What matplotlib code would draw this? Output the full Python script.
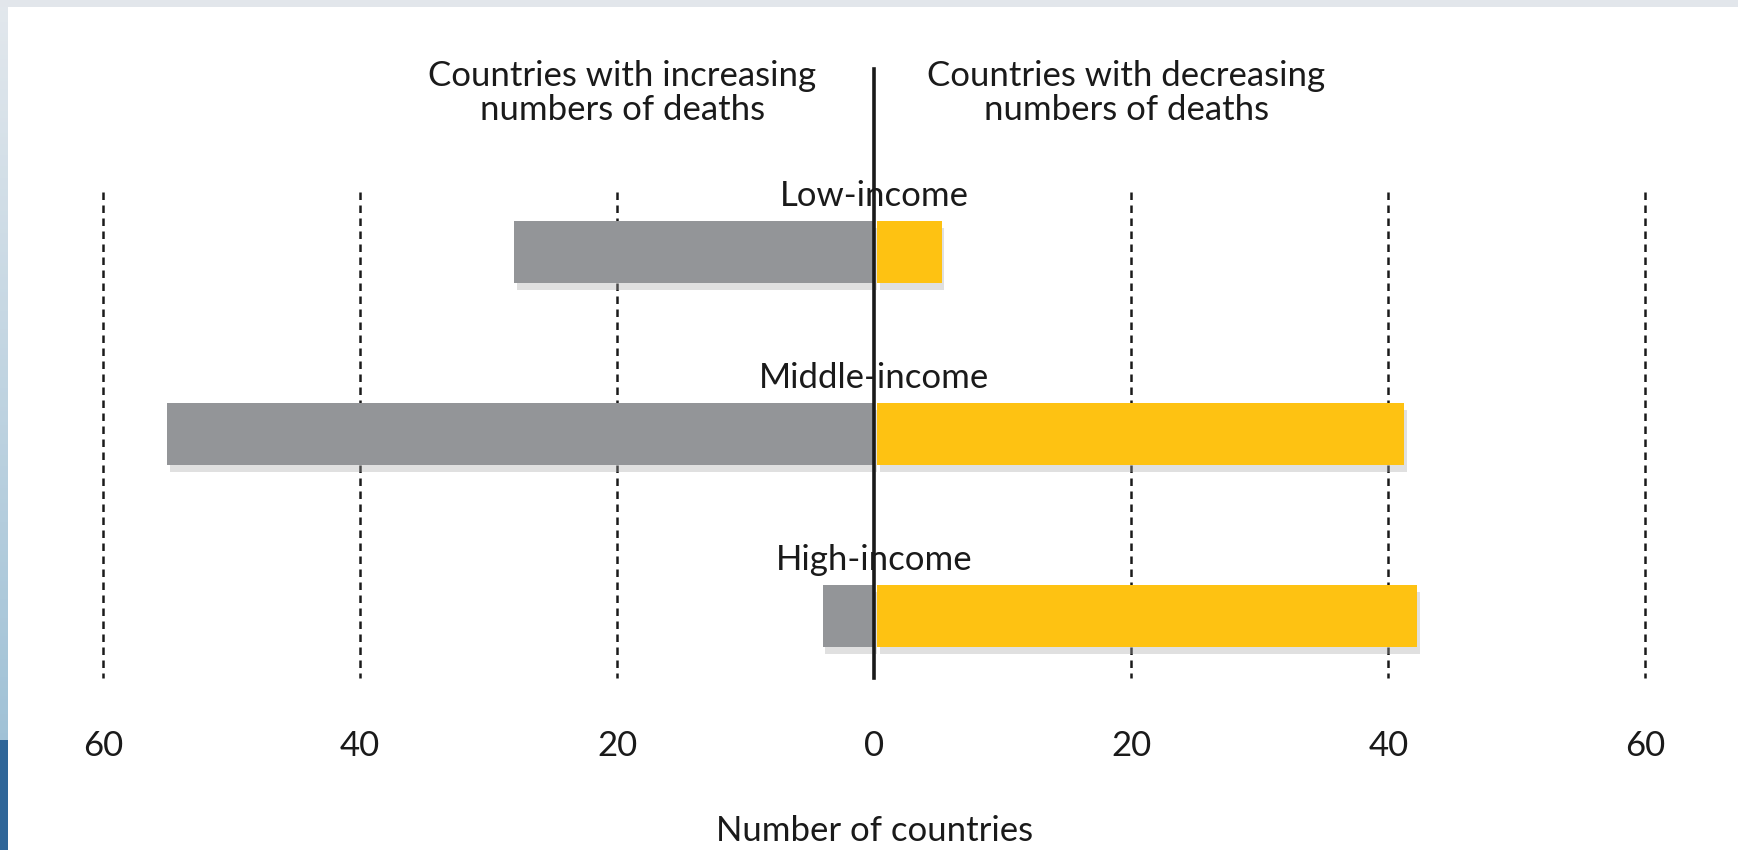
import matplotlib
matplotlib.use("Agg")
import matplotlib.pyplot as plt
import matplotlib.patheffects as pe
import numpy as np
from matplotlib import font_manager

categories = ["Low-income", "Middle-income", "High-income"]
increasing = [28, 55, 4]
decreasing = [5, 41, 42]
ticks = [-60, -40, -20, 0, 20, 40, 60]
tick_labels = ["60", "40", "20", "0", "20", "40", "60"]
title_left = "Countries with increasing\nnumbers of deaths"
title_right = "Countries with decreasing\nnumbers of deaths"
xlabel = "Number of countries"

names = {f.name for f in font_manager.fontManager.ttflist}
fam = next((n for n in ["Lato", "Roboto", "Liberation Sans"] if n in names), "DejaVu Sans")
plt.rcParams['font.family'] = [fam, 'DejaVu Sans']

W, H = 1738, 850
fig = plt.figure(figsize=(W / 100, H / 100), dpi=100)
fig.patch.set_facecolor("white")

# decorative frame: top band and left stripe
bg = fig.add_axes([0, 0, 1, 1])
bg.axis("off")
grad = np.linspace(0, 1, 200)[:, None]
c0 = np.array([0.89, 0.91, 0.93]); c1 = np.array([0.63, 0.76, 0.84])
img = c0[None, None, :] * (1 - grad[..., None]) + c1[None, None, :] * grad[..., None]
bg.imshow(img, extent=(0, 8, 740, 0), aspect="auto")
bg.add_patch(plt.Rectangle((0, 0), W, 7, color="#e2e6eb", lw=0))
bg.add_patch(plt.Rectangle((0, 740), 8, H - 740, color="#2f6699", lw=0))
bg.set_xlim(0, W); bg.set_ylim(H, 0)

ax = fig.add_axes([0, 0, 1, 1])
ax.patch.set_alpha(0)
ax.set_xlim(-68.0, 67.2)
ax.set_ylim(3.286, -1.385)
ax.axis("off")

y = np.arange(len(categories))
grid_top, grid_bot = -0.33, 2.34
for t in ticks:
    if t != 0:
        ax.plot([t, t], [grid_top, grid_bot], ls=(0, (3, 2.2)), color="#1a1a1a", lw=1.8, zorder=1)

shadow = [pe.SimplePatchShadow(offset=(2, -5), shadow_rgbFace="#a8a8a8", alpha=0.35), pe.Normal()]
h = 0.345
ax.barh(y, [-v for v in increasing], height=h, color="#939598", zorder=2, path_effects=shadow)
ax.barh(y, decreasing, height=h, left=0.25, color="#fec212", zorder=2, path_effects=shadow)

ax.plot([0, 0], [-1.005, grid_bot], color="#1a1a1a", lw=2.6, zorder=4)

fs = 25
tc = "#1a1a1a"
for yi, c in zip(y, categories):
    ax.text(0, yi - 0.31, c, ha="center", va="center", fontsize=fs, color=tc, zorder=5)

ax.text(-19.6, -0.874, title_left, ha="center", va="center", fontsize=fs, color=tc, linespacing=1.1)
ax.text(19.6, -0.874, title_right, ha="center", va="center", fontsize=fs, color=tc, linespacing=1.1)

for t, lab in zip(ticks, tick_labels):
    ax.text(t, 2.714, lab, ha="center", va="center", fontsize=fs, color=tc)

ax.text(0, 3.18, xlabel, ha="center", va="center", fontsize=fs, color=tc)

fig.savefig("out.png", dpi=100)
